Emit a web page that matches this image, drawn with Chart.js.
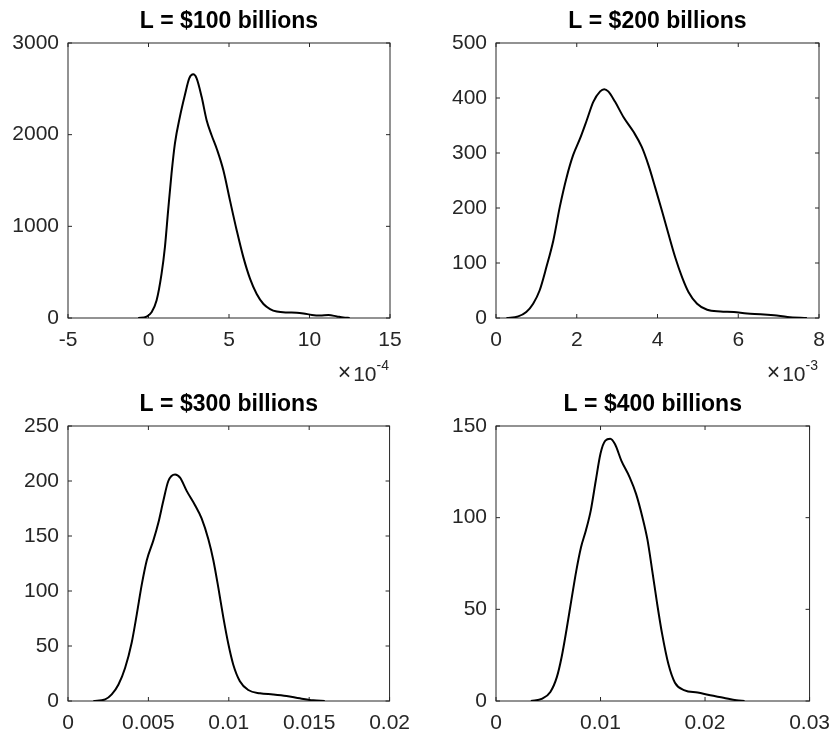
<!DOCTYPE html>
<html>
<head>
<meta charset="utf-8">
<script src="https://cdn.jsdelivr.net/npm/chart.js@4.4.0/dist/chart.umd.min.js"></script>
<style>
  html, body { margin: 0; padding: 0; background: #ffffff; }
  #fig { position: relative; width: 840px; height: 733px; overflow: hidden; }
  .panel { position: absolute; }
  canvas { display: block; }
</style>
</head>
<body>
<div id="fig">
  <div class="panel" style="left:0px;top:0px;"><canvas id="p100" width="420" height="386"></canvas></div>
  <div class="panel" style="left:420px;top:0px;"><canvas id="p200" width="420" height="386"></canvas></div>
  <div class="panel" style="left:0px;top:386px;"><canvas id="p300" width="420" height="347"></canvas></div>
  <div class="panel" style="left:420px;top:386px;"><canvas id="p400" width="420" height="347"></canvas></div>
</div>
<script>
// ---- Kernel density estimates of the loss rate, one panel per L ----

// L = $100 billions (x values in units of 1e-4)
const l100X = [-0.64, -0.12, 0.19, 0.5, 0.81, 1.02, 1.22, 1.43, 1.64, 1.95, 2.26, 2.53, 2.78, 2.99,
  3.3, 3.61, 3.92, 4.27, 4.65, 5.06, 5.48, 5.89, 6.31, 6.72, 7.14, 7.55, 7.97, 8.59, 9.21, 9.63,
  10.15, 10.66, 11.18, 11.7, 12.1, 12.5];
const l100Y = [0, 15, 62, 190, 481, 773, 1174, 1575, 1903, 2195, 2432, 2614, 2658, 2614,
  2413, 2158, 1994, 1830, 1611, 1283, 955, 664, 427, 262, 153, 98, 70, 60, 58, 50,
  34, 28, 32, 17, 5, 0];
const l100XTicks = [-5, 0, 5, 10, 15];
const l100YTicks = [0, 1000, 2000, 3000];

// L = $200 billions (x values in units of 1e-3)
const l200X = [0.26, 0.55, 0.75, 0.92, 1.08, 1.25, 1.42, 1.58, 1.75, 1.91, 2.08, 2.25, 2.41, 2.58,
  2.68, 2.78, 2.95, 3.16, 3.41, 3.61, 3.78, 3.94, 4.11, 4.27, 4.44, 4.61, 4.77, 4.98, 5.23, 5.56,
  5.89, 6.22, 6.55, 6.89, 7.22, 7.7];
const l200Y = [0, 3, 11, 26, 50, 93, 141, 202, 256, 296, 326, 360, 393, 412,
  416, 412, 393, 365, 338, 311, 277, 238, 195, 153, 110, 74, 47, 26, 15, 12,
  11, 8, 7, 5, 2, 0];
const l200XTicks = [0, 2, 4, 6, 8];
const l200YTicks = [0, 100, 200, 300, 400, 500];

// L = $300 billions
const l300X = [0.00158, 0.00231, 0.00272, 0.00314, 0.00355, 0.00396, 0.00428, 0.00459, 0.0049,
  0.00531, 0.00562, 0.00593, 0.00624, 0.00666, 0.00697, 0.00738, 0.0079, 0.00831, 0.00873,
  0.00904, 0.00935, 0.00966, 0.00997, 0.01028, 0.01069, 0.01121, 0.01194, 0.01276, 0.01359,
  0.01442, 0.01525, 0.01597];
const l300Y = [0, 1.5, 6, 15, 30, 53, 79, 106, 128, 146, 162, 182, 200, 206, 203, 191, 178, 166,
  147, 128, 103, 76, 52, 33, 18, 10, 7, 6, 4.6, 2.4, 0.6, 0];
const l300XTicks = [0, 0.005, 0.01, 0.015, 0.02];
const l300XLabels = ['0', '0.005', '0.01', '0.015', '0.02'];
const l300YTicks = [0, 50, 100, 150, 200, 250];

// L = $400 billions
const l400X = [0.00334, 0.00443, 0.0052, 0.00582, 0.00628, 0.00675, 0.00721, 0.00768, 0.00814,
  0.0086, 0.00907, 0.00954, 0.01, 0.01046, 0.01093, 0.01139, 0.012, 0.01279, 0.0134, 0.01402,
  0.01449, 0.01495, 0.01542, 0.01588, 0.0165, 0.01712, 0.01805, 0.01929, 0.0205, 0.02176,
  0.023, 0.02378];
const l400Y = [0, 1.3, 4.9, 13, 24, 39, 55, 71, 84, 93, 104, 120, 135, 142, 143, 140, 131, 122,
  113, 100, 88, 71, 53, 37, 20, 10, 5.8, 4.6, 3.1, 1.8, 0.4, 0];
const l400XTicks = [0, 0.01, 0.02, 0.03];
const l400XLabels = ['0', '0.01', '0.02', '0.03'];
const l400YTicks = [0, 50, 100, 150];

const FONT = "'Liberation Sans', Arial, Helvetica, sans-serif";
const AXIS_COLOR = '#262626';
Chart.defaults.font.family = FONT;

// Axes box with inward tick marks on all four sides
const boxPlugin = {
  id: 'matBox',
  beforeDatasetsDraw(chart) {
    const { ctx, chartArea: a, scales } = chart;
    const len = 4;
    ctx.save();
    ctx.strokeStyle = AXIS_COLOR;
    ctx.lineWidth = 1;
    ctx.beginPath();
    scales.x.ticks.forEach(t => {
      const px = scales.x.getPixelForValue(t.value);
      ctx.moveTo(px, a.bottom); ctx.lineTo(px, a.bottom - len);
      ctx.moveTo(px, a.top); ctx.lineTo(px, a.top + len);
    });
    scales.y.ticks.forEach(t => {
      const py = scales.y.getPixelForValue(t.value);
      ctx.moveTo(a.left, py); ctx.lineTo(a.left + len, py);
      ctx.moveTo(a.right, py); ctx.lineTo(a.right - len, py);
    });
    ctx.stroke();
    ctx.strokeRect(a.left, a.top, a.right - a.left, a.bottom - a.top);
    ctx.restore();
  }
};

// "×10^n" multiplier under the right end of the x axis
const expPlugin = {
  id: 'xExponent',
  afterDraw(chart, args, opts) {
    if (!opts || !opts.text) return;
    const { ctx, chartArea: a } = chart;
    ctx.save();
    ctx.fillStyle = AXIS_COLOR;
    ctx.textBaseline = 'alphabetic';
    ctx.textAlign = 'right';
    const base = a.bottom + 63;
    let x = a.right - 1;
    ctx.font = '14px ' + FONT;
    ctx.fillText(opts.text, x, base - 11);
    x -= ctx.measureText(opts.text).width;
    ctx.font = '21px ' + FONT;
    ctx.fillText('10', x, base);
    x -= ctx.measureText('10').width + 2;
    ctx.font = '23px ' + FONT;
    ctx.fillText('\u00D7', x, base - 1);
    ctx.restore();
  }
};

function panel(id, cfg) {
  const canvas = document.getElementById(id);
  const W = canvas.width, H = canvas.height;
  const a = cfg.area;
  const pts = cfg.xs.map((v, i) => ({ x: v * cfg.xUnit, y: cfg.ys[i] }));
  const xTickVals = cfg.xTicks.map(v => v * cfg.xUnit);
  const xLabels = cfg.xLabels || cfg.xTicks.map(String);
  return new Chart(canvas, {
    type: 'scatter',
    data: {
      datasets: [{
        data: pts,
        showLine: true,
        borderColor: '#000000',
        borderWidth: 2,
        pointRadius: 0,
        cubicInterpolationMode: 'monotone',
        fill: false
      }]
    },
    options: {
      responsive: false,
      animation: false,
      events: [],
      layout: { padding: { left: 0, right: W - a.right, top: 0, bottom: 0 } },
      plugins: {
        legend: { display: false },
        tooltip: { enabled: false },
        title: {
          display: true,
          fullSize: false,
          text: cfg.title,
          color: '#000000',
          font: { family: FONT, size: 23, weight: 'bold', lineHeight: 1.2 },
          padding: { top: cfg.titleTop, bottom: a.top - 27.6 - cfg.titleTop }
        },
        xExponent: { text: cfg.exponent || '' }
      },
      scales: {
        x: {
          type: 'linear',
          min: xTickVals[0],
          max: xTickVals[xTickVals.length - 1],
          afterBuildTicks: s => { s.ticks = xTickVals.map(v => ({ value: v })); },
          afterFit: s => { s.height = H - a.bottom; },
          grid: { display: false, drawTicks: false },
          border: { display: false },
          ticks: {
            color: AXIS_COLOR,
            font: { size: 21 },
            padding: 10,
            maxRotation: 0,
            autoSkip: false,
            callback: (v, i) => xLabels[i]
          }
        },
        y: {
          type: 'linear',
          min: cfg.yTicks[0],
          max: cfg.yTicks[cfg.yTicks.length - 1],
          afterBuildTicks: s => { s.ticks = cfg.yTicks.map(v => ({ value: v })); },
          afterFit: s => { s.width = a.left; },
          grid: { display: false, drawTicks: false },
          border: { display: false },
          ticks: {
            color: AXIS_COLOR,
            font: { size: 21 },
            padding: 9,
            autoSkip: false,
            callback: (v, i) => String(cfg.yTicks[i])
          }
        }
      }
    },
    plugins: [boxPlugin, expPlugin]
  });
}

panel('p100', {
  title: 'L = $100 billions', xs: l100X, ys: l100Y, xUnit: 1e-4,
  xTicks: l100XTicks, yTicks: l100YTicks, exponent: '-4',
  area: { left: 68, right: 390, top: 43, bottom: 318 }, titleTop: 8.2
});
panel('p200', {
  title: 'L = $200 billions', xs: l200X, ys: l200Y, xUnit: 1e-3,
  xTicks: l200XTicks, yTicks: l200YTicks, exponent: '-3',
  area: { left: 76, right: 399, top: 43, bottom: 318 }, titleTop: 8.2
});
panel('p300', {
  title: 'L = $300 billions', xs: l300X, ys: l300Y, xUnit: 1,
  xTicks: l300XTicks, xLabels: l300XLabels, yTicks: l300YTicks,
  area: { left: 68, right: 390, top: 40, bottom: 315 }, titleTop: 5.2
});
panel('p400', {
  title: 'L = $400 billions', xs: l400X, ys: l400Y, xUnit: 1,
  xTicks: l400XTicks, xLabels: l400XLabels, yTicks: l400YTicks,
  area: { left: 76, right: 399, top: 40, bottom: 315 }, titleTop: 5.2
});
</script>
</body>
</html>
